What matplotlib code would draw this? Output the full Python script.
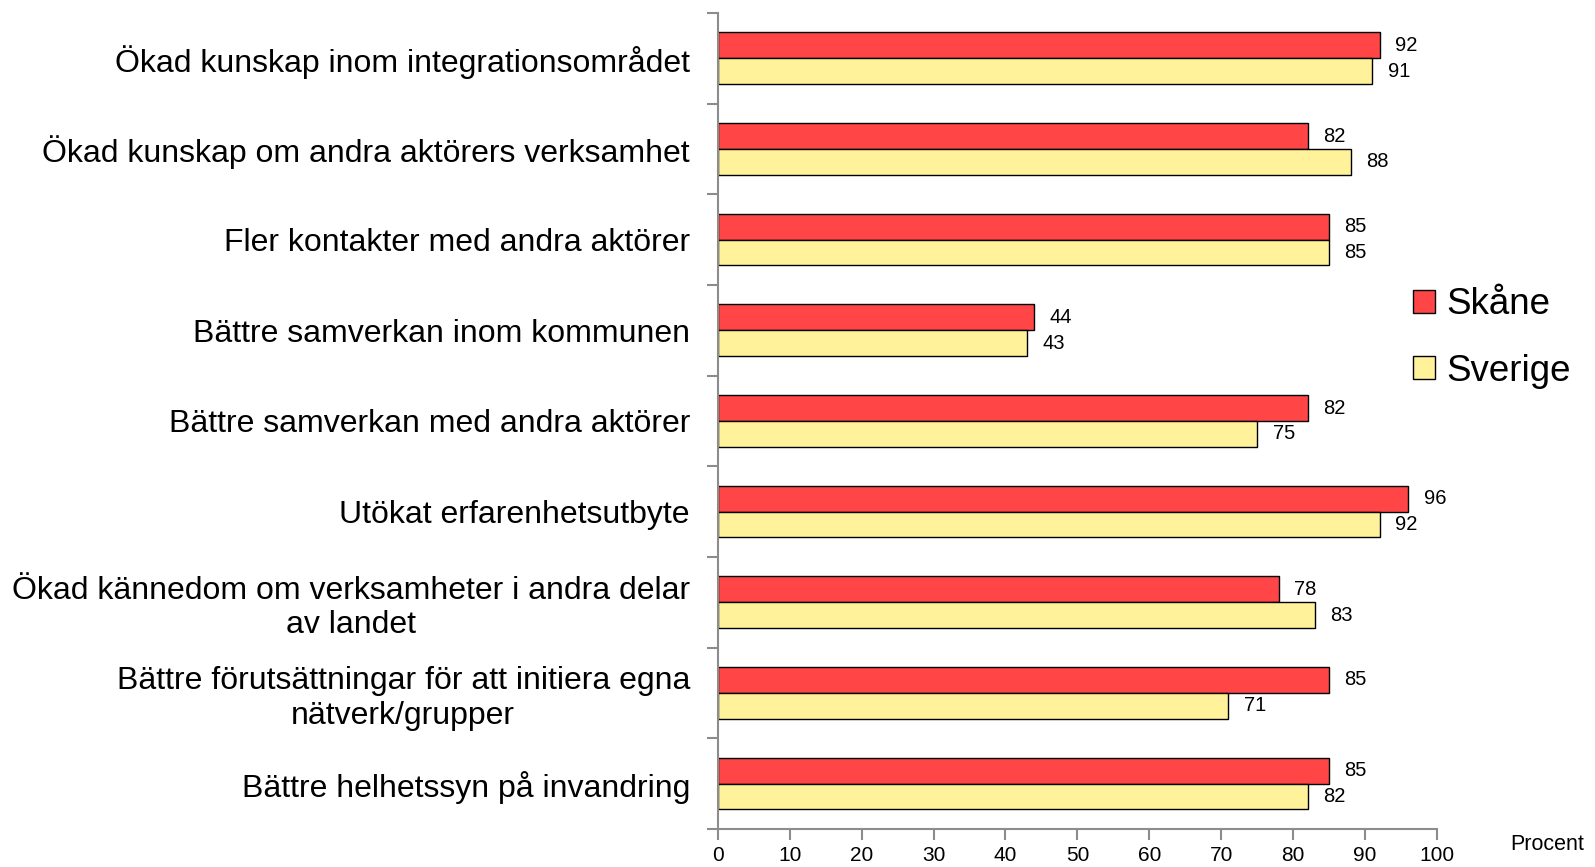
import numpy as np
import matplotlib.pyplot as plt

plt.rcParams['font.family'] = ['Liberation Sans', 'DejaVu Sans']

categories = [
    "Ökad kunskap inom integrationsområdet",
    "Ökad kunskap om andra aktörers verksamhet",
    "Fler kontakter med andra aktörer",
    "Bättre samverkan inom kommunen",
    "Bättre samverkan med andra aktörer",
    "Utökat erfarenhetsutbyte",
    "Ökad kännedom om verksamheter i andra delar\nav landet",
    "Bättre förutsättningar för att initiera egna\nnätverk/grupper",
    "Bättre helhetssyn på invandring",
]
skane = [92, 82, 85, 44, 82, 96, 78, 85, 85]
sverige = [91, 88, 85, 43, 75, 92, 83, 71, 82]
xticks = [0, 10, 20, 30, 40, 50, 60, 70, 80, 90, 100]

red = "#FF4545"
yellow = "#FFF29B"
gray = "#8C8C8C"

fig = plt.figure(figsize=(15.95, 8.67), dpi=100)
ax = fig.add_axes([0.450, 0.044, 0.451, 0.941])

n = len(categories)
y = np.arange(n)
h = 0.285

b1 = ax.barh(y - h / 2, skane, height=h, color=red, edgecolor="black", linewidth=1, label="Skåne")
b2 = ax.barh(y + h / 2, sverige, height=h, color=yellow, edgecolor="black", linewidth=1, label="Sverige")

for bars, vals in ((b1, skane), (b2, sverige)):
    for bar, v in zip(bars, vals):
        ax.annotate(str(v), (v, bar.get_y() + bar.get_height() / 2),
                    xytext=(11, 0), textcoords="offset points",
                    ha="left", va="center", fontsize=14.5)

ax.set_xlim(0, 100)
ax.set_ylim(n - 0.5, -0.5)
ax.set_xticks(xticks)
ax.set_xticklabels([str(t) for t in xticks], fontsize=15)

# category ticks sit at the group boundaries, labels at the centres
ax.set_yticks(np.arange(n + 1) - 0.5)
ax.set_yticklabels([])
ax.set_yticks(y, minor=True)
ax.set_yticklabels(categories, minor=True, fontsize=23, multialignment="center")
ax.tick_params(axis="y", which="minor", length=0, pad=20)
ax.tick_params(axis="y", which="major", length=8, color=gray, width=1.5)
ax.tick_params(axis="x", length=8, color=gray, width=1.5, pad=4)

for side in ("top", "right"):
    ax.spines[side].set_visible(False)
for side in ("left", "bottom"):
    ax.spines[side].set_color(gray)
    ax.spines[side].set_linewidth(1.5)

fig.text(0.970, 0.026, "Procent", fontsize=15.5, ha="center", va="center")

fig.legend(handles=[b1, b2], loc="center left", bbox_to_anchor=(0.865, 0.61),
           frameon=False, fontsize=26.5, handlelength=0.6, handleheight=0.6,
           handletextpad=0.3, labelspacing=0.85)

fig.savefig("out.png", dpi=100)
